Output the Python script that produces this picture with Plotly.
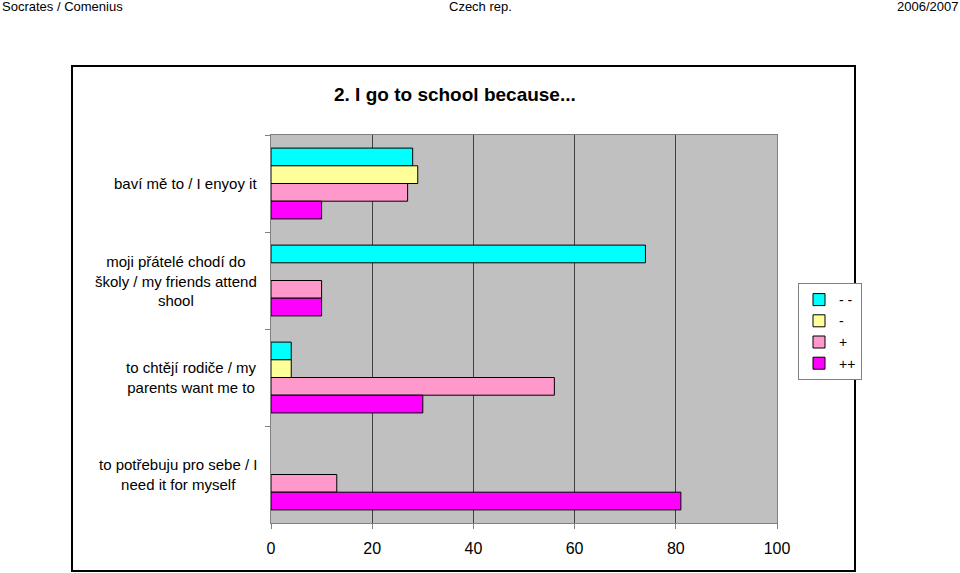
import plotly.graph_objects as go

categories = [
    "baví mě to / I enyoy it",
    "moji přátelé chodí do<br>školy / my friends attend<br>shool",
    "to chtějí rodiče / my<br>parents want me to",
    "to potřebuju pro sebe / I<br>need it for myself",
]
series_names = ["- -", "-", "+", "++"]
vals_mm = [28, 74, 4, None]
vals_m = [29, None, 4, None]
vals_p = [27, 10, 56, 13]
vals_pp = [10, 10, 30, 81]
colors = ["#00FFFF", "#FFFF99", "#FF99CC", "#FF00FF"]
x_ticks = [0, 20, 40, 60, 80, 100]

FONT = "Liberation Sans, Arial, sans-serif"
cat_ids = ["c0", "c1", "c2", "c3"]

fig = go.Figure()
for name, vals, col in zip(series_names, [vals_mm, vals_m, vals_p, vals_pp], colors):
    fig.add_trace(go.Bar(
        y=cat_ids, x=vals, name=name, orientation="h",
        marker=dict(color=col, line=dict(color="black", width=1)),
    ))

L, R, T, B = 271, 777, 135, 523
W, H = 960, 573
pw, ph = R - L, B - T

def px_x(p):
    return (p - L) / pw

def px_y(p):
    return (B - p) / ph

annotations = []
for cid, lab in zip(cat_ids, categories):
    annotations.append(dict(
        x=0, xref="paper", y=cid, yref="y", text=lab, showarrow=False,
        xanchor="right", yanchor="middle", align="center", xshift=-12,
        font=dict(family=FONT, size=15, color="black"),
    ))

annotations += [
    dict(x=px_x(455), y=px_y(95), xref="paper", yref="paper",
         text="<b>2. I go to school because...</b>", showarrow=False,
         xanchor="center", yanchor="middle",
         font=dict(family=FONT, size=19, color="black")),
    dict(x=px_x(0), y=px_y(6), xref="paper", yref="paper", text="Socrates / Comenius",
         showarrow=False, xanchor="left", yanchor="middle",
         font=dict(family=FONT, size=13, color="black")),
    dict(x=px_x(480), y=px_y(6), xref="paper", yref="paper", text="Czech rep.",
         showarrow=False, xanchor="center", yanchor="middle",
         font=dict(family=FONT, size=13, color="black")),
    dict(x=px_x(960), y=px_y(6), xref="paper", yref="paper", text="2006/2007",
         showarrow=False, xanchor="right", yanchor="middle",
         font=dict(family=FONT, size=13, color="black")),
]

shapes = [
    dict(type="rect", xref="paper", yref="paper",
         x0=px_x(72), x1=px_x(855), y0=px_y(571), y1=px_y(66),
         line=dict(color="black", width=2), fillcolor="rgba(0,0,0,0)", layer="below"),
]

fig.update_layout(
    width=W, height=H,
    margin=dict(l=L, r=W - R, t=T, b=H - B, autoexpand=False),
    paper_bgcolor="white", plot_bgcolor="#C0C0C0",
    barmode="group", bargap=0.27, bargroupgap=0,
    showlegend=True,
    legend=dict(
        x=px_x(798), y=px_y(283), xanchor="left", yanchor="top",
        bgcolor="white", bordercolor="#808080", borderwidth=1,
        font=dict(family=FONT, size=14, color="black"),
        traceorder="normal", itemwidth=30,
    ),
    annotations=annotations, shapes=shapes,
    xaxis=dict(
        range=[0, 100], tickvals=x_ticks, showgrid=True, gridcolor="#404040", gridwidth=1,
        showline=True, linecolor="#808080", mirror=True, zeroline=False,
        ticks="outside", ticklen=5, tickcolor="#808080",
        tickfont=dict(family=FONT, size=16, color="black"), ticklabelstandoff=6,
        fixedrange=True,
    ),
    yaxis=dict(
        categoryorder="array", categoryarray=cat_ids, autorange="reversed",
        showticklabels=False, ticks="outside", tickson="boundaries", ticklen=5,
        tickcolor="#808080", showline=True, linecolor="#808080", mirror=True,
        showgrid=False, zeroline=False, fixedrange=True,
    ),
)

fig.write_html("out.html")
